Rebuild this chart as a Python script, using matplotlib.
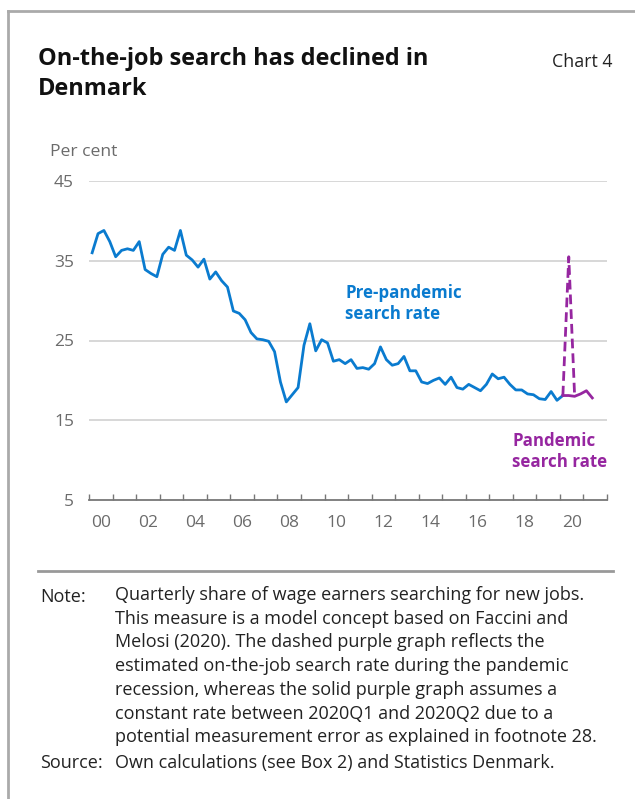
import numpy as np
import matplotlib
matplotlib.use("Agg")
import matplotlib.pyplot as plt
from matplotlib.lines import Line2D

plt.rcParams['font.family'] = ['Open Sans', 'DejaVu Sans']

# quarterly values 2000Q1 - 2020Q1, pre-pandemic search rate (per cent)
pre_pandemic = [36.0, 38.4, 38.8, 37.4, 35.5, 36.3, 36.5, 36.3,
                37.4, 33.9, 33.4, 33.0, 35.8, 36.7, 36.3, 38.8,
                35.7, 35.1, 34.2, 35.2, 32.7, 33.6, 32.5, 31.7,
                28.7, 28.4, 27.6, 26.0, 25.2, 25.1, 24.9, 23.6,
                19.8, 17.3, 18.2, 19.1, 24.4, 27.1, 23.7, 25.1,
                24.7, 22.4, 22.6, 22.1, 22.6, 21.5, 21.6, 21.4,
                22.1, 24.2, 22.6, 21.9, 22.1, 23.0, 21.2, 21.2,
                19.8, 19.6, 20.0, 20.3, 19.5, 20.4, 19.1, 18.9,
                19.5, 19.1, 18.7, 19.5, 20.8, 20.2, 20.4, 19.5,
                18.8, 18.8, 18.3, 18.2, 17.7, 17.6, 18.6, 17.5,
                18.1]
# 2020Q1 - 2021Q2, solid purple (constant rate between 2020Q1 and 2020Q2)
pandemic_solid = [18.1, 18.1, 18.0, 18.3, 18.7, 17.8]
# 2020Q1 - 2020Q3, dashed purple (estimated)
pandemic_dashed = [18.1, 35.5, 18.0]

yticks = [5, 15, 25, 35, 45]
xlabels = ['00', '02', '04', '06', '08', '10', '12', '14', '16', '18', '20']

blue = '#0a7bcf'
purple = '#9626a0'
grey_txt = '#6b6b6b'

W, H = 635, 799
fig = plt.figure(figsize=(W / 100, H / 100), dpi=100)

def fx(x):
    return x / W

def fy(y):
    return 1 - y / H

# frame: top and left border, separator
fig.add_artist(Line2D([fx(8), fx(8)], [fy(11), 0], color='#aaaaaa', lw=2))
fig.add_artist(Line2D([fx(8), 1], [fy(11), fy(11)], color='#aaaaaa', lw=2))
fig.add_artist(Line2D([fx(38), fx(613)], [fy(571), fy(571)], color='#999999', lw=2))

ax = fig.add_axes([fx(89.2), fy(500), fx(607) - fx(89.2), fy(181) - fy(500)])

t_pre = 2000 + (np.arange(len(pre_pandemic)) + 0.5) / 4
t_solid = 2020 + (np.arange(len(pandemic_solid)) + 0.5) / 4
t_dash = 2020 + (np.arange(len(pandemic_dashed)) + 0.5) / 4

ax.plot(t_pre, pre_pandemic, color=blue, lw=2.0, zorder=3)
ax.plot(t_dash, pandemic_dashed, color=purple, lw=2.0, ls=(0, (3.5, 1.8)), zorder=4)
ax.plot(t_solid, pandemic_solid, color=purple, lw=2.0, zorder=5)

ax.set_xlim(2000, 2022)
ax.set_ylim(5, 45)
ax.set_yticks(yticks)
ax.set_yticklabels([str(v) for v in yticks])
for v in yticks[1:]:
    ax.axhline(v, color='#d4d4d4', lw=1.3, zorder=1)

for s in ['top', 'right', 'left']:
    ax.spines[s].set_visible(False)
ax.spines['bottom'].set_color('#777777')
ax.spines['bottom'].set_linewidth(1.3)

ax.set_xticks(np.arange(2000, 2023))
ax.set_xticklabels([])
ax.set_xticks(np.arange(2000, 2021, 2) + 0.5, minor=True)
ax.set_xticklabels(xlabels, minor=True)
ax.tick_params(axis='x', which='major', direction='in', length=4, width=1, color='#777777')
ax.tick_params(axis='x', which='minor', length=0, pad=11, labelsize=12.5, labelcolor=grey_txt)
ax.tick_params(axis='y', length=0, pad=11, labelsize=12.5, labelcolor=grey_txt)

ax.text(2010.87, 29.6, 'Pre-pandemic\nsearch rate', color=blue, fontsize=12.2,
        fontweight='bold', linespacing=1.2, va='center', ha='left')
ax.text(2017.97, 11.1, 'Pandemic\nsearch rate', color=purple, fontsize=12.2,
        fontweight='bold', linespacing=1.2, va='center', ha='left')

fig.text(fx(38), fy(74), 'On-the-job search has declined in\nDenmark', fontsize=16.9,
         fontweight='bold', va='center', ha='left', linespacing=1.3, color='#111111')
fig.text(fx(613), fy(62), 'Chart 4', fontsize=12.8, va='center', ha='right', color='#222222')
fig.text(fx(50), fy(152), 'Per cent', fontsize=12.6, va='center', ha='left', color=grey_txt)

note = ('Quarterly share of wage earners searching for new jobs.\n'
        'This measure is a model concept based on Faccini and\n'
        'Melosi (2020). The dashed purple graph reflects the\n'
        'estimated on-the-job search rate during the pandemic\n'
        'recession, whereas the solid purple graph assumes a\n'
        'constant rate between 2020Q1 and 2020Q2 due to a\n'
        'potential measurement error as explained in footnote 28.')
fig.text(fx(40), fy(597), 'Note:', fontsize=13, va='center', ha='left', color='#222222')
fig.text(fx(115), fy(586), note, fontsize=13, va='top', ha='left', linespacing=1.41,
         color='#222222')
fig.text(fx(40), fy(763), 'Source:', fontsize=13, va='center', ha='left', color='#222222')
fig.text(fx(115), fy(763), 'Own calculations (see Box 2) and Statistics Denmark.', fontsize=13,
         va='center', ha='left', color='#222222')

fig.savefig('out.png', dpi=100)
